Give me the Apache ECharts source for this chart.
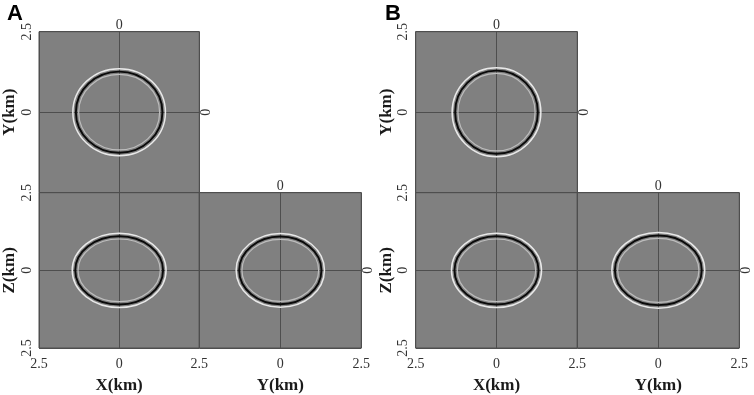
<!DOCTYPE html>
<html>
<head>
<meta charset="utf-8">
<style>
  html, body { margin: 0; padding: 0; background: #fff; }
  #chart { width: 754px; height: 395px; }
</style>
<script src="https://cdn.jsdelivr.net/npm/echarts@6/dist/echarts.min.js"></script>
</head>
<body>
<div id="chart"></div>
<script>
// panel letters
const panelNames = ['A', 'B'];
// axis range and tick labels (km)
const axisMin = -2.5;
const axisMax = 2.5;
const tickValues = [-2.5, 0, 2.5];
const tickText = ['2.5', '0', '2.5'];
// wavefront ellipses: [centerH, centerV, radiusH, radiusV] in km
const frontA_XY = [0, 0, 1.35, 1.26];
const frontA_XZ = [0, 0, 1.37, 1.10];
const frontA_YZ = [0, 0, 1.27, 1.09];
const frontB_XY = [0, 0, 1.28, 1.29];
const frontB_XZ = [0, 0, 1.30, 1.10];
const frontB_YZ = [0, 0, 1.34, 1.12];

const serif = "'Liberation Serif', 'Times New Roman', serif";
const labelColor = '#333';
const lineColor = '#4e4e4e';

const chart = echarts.init(document.getElementById('chart'));

/** label formatter that only shows the wanted ticks */
function tickLabel(keep) {
  return function (v) {
    const i = tickValues.indexOf(v);
    if (i < 0 || keep.indexOf(i) < 0) return '';
    return tickText[i];
  };
}

function makeAxis(gridIndex, opts) {
  return Object.assign({
    type: 'value',
    gridIndex: gridIndex,
    min: axisMin,
    max: axisMax,
    interval: 2.5,
    axisLine: { show: false },
    axisTick: { show: false },
    splitLine: { show: false },
    axisLabel: { show: false },
    nameTextStyle: { fontFamily: serif, fontWeight: 'bold', fontSize: 17, color: '#1a1a1a' }
  }, opts);
}

function labelStyle(keep, rotate, margin) {
  return {
    show: true,
    formatter: tickLabel(keep),
    rotate: rotate,
    margin: margin,
    fontFamily: serif,
    fontSize: 14,
    color: labelColor,
    showMinLabel: true,
    showMaxLabel: true
  };
}

const cross = { show: true, lineStyle: { color: lineColor, width: 1 } };

// ring styles around the wavefront: pixel offset, colour, width
const rings = [
  { off: 3.0, color: '#e8e8e8', width: 1.5 },
  { off: -2.8, color: '#bdbdbd', width: 1.2 },
  { off: 0, color: '#0a0a0a', width: 1.9 }
];

function renderFront(params, api) {
  const c = api.coord([api.value(0), api.value(1)]);
  const s = api.size([api.value(2), api.value(3)]);
  return {
    type: 'group',
    children: rings.map(function (r) {
      return {
        type: 'ellipse',
        shape: { cx: c[0], cy: c[1], rx: s[0] + r.off, ry: s[1] + r.off },
        style: { fill: null, stroke: r.color, lineWidth: r.width }
      };
    })
  };
}

const grids = [];
const xAxes = [];
const yAxes = [];
const series = [];
const titles = [];

const panelFronts = [
  [frontA_XY, frontA_XZ, frontA_YZ],
  [frontB_XY, frontB_XZ, frontB_YZ]
];

panelNames.forEach(function (name, p) {
  const ox = p * 378;
  const g0 = grids.length;
  titles.push({
    text: name, left: 2 + ox, top: -2,
    textStyle: { fontFamily: "'Liberation Sans', Arial, sans-serif", fontWeight: 'bold', fontSize: 22, color: '#000' }
  });
  const box = [
    { left: 37.7 + ox, top: 31.7, width: 161.6, height: 161 },
    { left: 37.7 + ox, top: 192.7, width: 161.6, height: 161.3 },
    { left: 199.3 + ox, top: 192.7, width: 162, height: 161.3 }
  ];
  box.forEach(function (b) {
    grids.push(Object.assign({
      show: true, backgroundColor: '#808080', borderColor: lineColor, borderWidth: 1
    }, b));
  });

  // XY slice
  xAxes.push(makeAxis(g0, { position: 'top', splitLine: cross, axisLabel: labelStyle([1], 0, -1) }));
  yAxes.push(makeAxis(g0, {
    position: 'left', splitLine: cross, axisLabel: labelStyle([1, 2], 90, 5),
    name: 'Y(km)', nameLocation: 'middle', nameGap: 21, nameRotate: 90
  }));
  yAxes.push(makeAxis(g0, { position: 'right', axisLabel: labelStyle([1], 90, 0) }));

  // XZ slice
  xAxes.push(makeAxis(g0 + 1, {
    position: 'bottom', splitLine: cross, axisLabel: labelStyle([0, 1, 2], 0, 9),
    name: 'X(km)', nameLocation: 'middle', nameGap: 29
  }));
  yAxes.push(makeAxis(g0 + 1, {
    position: 'left', splitLine: cross, axisLabel: labelStyle([0, 1, 2], 90, 5),
    name: 'Z(km)', nameLocation: 'middle', nameGap: 21, nameRotate: 90
  }));

  // YZ slice
  xAxes.push(makeAxis(g0 + 2, {
    position: 'bottom', splitLine: cross, axisLabel: labelStyle([1, 2], 0, 9),
    name: 'Y(km)', nameLocation: 'middle', nameGap: 29
  }));
  xAxes.push(makeAxis(g0 + 2, { position: 'top', axisLabel: labelStyle([1], 0, -1) }));
  yAxes.push(makeAxis(g0 + 2, { position: 'left', splitLine: cross }));
  yAxes.push(makeAxis(g0 + 2, { position: 'right', axisLabel: labelStyle([1], 90, 0) }));

  // x axes per panel: XY top, XZ bottom, YZ bottom, YZ top
  // y axes per panel: XY left, XY right, XZ left, YZ left, YZ right
  const xi = xAxes.length - 4;
  const yi = yAxes.length - 5;
  const pairs = [[xi, yi], [xi + 1, yi + 2], [xi + 2, yi + 3]];
  panelFronts[p].forEach(function (f, k) {
    series.push({
      type: 'custom',
      xAxisIndex: pairs[k][0],
      yAxisIndex: pairs[k][1],
      renderItem: renderFront,
      data: [f],
      silent: true,
      animation: false
    });
  });
});

chart.setOption({
  backgroundColor: '#fff',
  animation: false,
  title: titles,
  grid: grids,
  xAxis: xAxes,
  yAxis: yAxes,
  series: series
});
</script>
</body>
</html>
